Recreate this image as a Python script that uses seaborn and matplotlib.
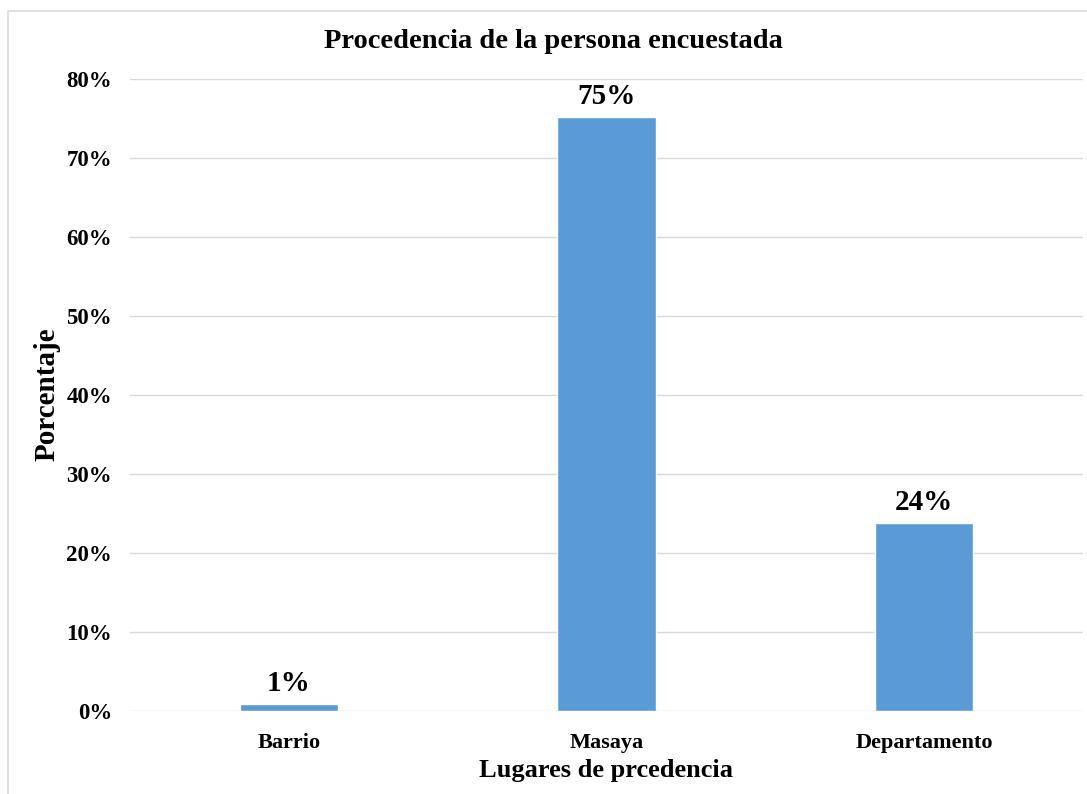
import matplotlib
matplotlib.use("Agg")
import matplotlib.pyplot as plt
import seaborn as sns
import pandas as pd
from matplotlib.patches import Rectangle

categories = ["Barrio", "Masaya", "Departamento"]
values = [0.9, 75.2, 23.8]
value_labels = ["1%", "75%", "24%"]
y_ticks = [0, 10, 20, 30, 40, 50, 60, 70, 80]
y_tick_labels = ["0%", "10%", "20%", "30%", "40%", "50%", "60%", "70%", "80%"]

sns.set_theme(style="white")
plt.rcParams["font.family"] = ["Liberation Serif", "DejaVu Serif"]
plt.rcParams["font.weight"] = "bold"
plt.rcParams["text.color"] = "black"
plt.rcParams["xtick.color"] = "black"
plt.rcParams["ytick.color"] = "black"

df = pd.DataFrame({"cat": categories, "val": values})

fig = plt.figure(figsize=(10.87, 7.94), dpi=100)
ax = fig.add_axes([130 / 1087, 1 - 711 / 794, (1083 - 130) / 1087, (711 - 79) / 794])

sns.barplot(data=df, x="cat", y="val", color="#5B9BD5", saturation=1, width=0.31, ax=ax)

ax.set_ylim(0, 80)
ax.set_yticks(y_ticks)
ax.set_yticklabels(y_tick_labels, fontsize=16.5, fontweight="bold", color="black")
ax.set_xticks(range(len(categories)))
ax.set_xticklabels(categories, fontsize=16, fontweight="bold", color="black")
ax.tick_params(axis="both", length=0)
ax.tick_params(axis="y", pad=13)
ax.tick_params(axis="x", pad=16)
ax.set_xlabel("")
ax.set_ylabel("")
ax.grid(axis="y", color="#D9D9D9", linewidth=1)
ax.set_axisbelow(True)
for s in ax.spines.values():
    s.set_visible(False)

for i, (v, lab) in enumerate(zip(values, value_labels)):
    ax.annotate(lab, (i, v), xytext=(0, 5), textcoords="offset points",
                ha="center", va="bottom", fontsize=21, fontweight="bold", color="black")

fig.text(553 / 1087, 1 - 42 / 794, "Procedencia de la persona encuestada",
         ha="center", va="center", fontsize=20.5, fontweight="bold", color="black")
fig.text(606 / 1087, 1 - 771 / 794, "Lugares de prcedencia",
         ha="center", va="center", fontsize=19, fontweight="bold", color="black")
fig.text(47 / 1087, 1 - 394 / 794, "Porcentaje", rotation=90,
         ha="center", va="center", fontsize=21, fontweight="bold", color="black")

fig.patches.append(Rectangle((8 / 1087, -0.1), 1.2, 1 - 11 / 794 + 0.1,
                             transform=fig.transFigure, fill=False,
                             edgecolor="#D9D9D9", linewidth=1.2))

fig.savefig("out.png", dpi=100, facecolor="white")
